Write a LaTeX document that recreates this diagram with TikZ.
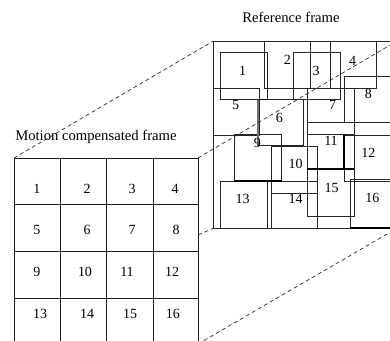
\documentclass[tikz,border=0pt]{standalone}
\usepackage{fontspec}
\setmainfont{Liberation Serif}
\begin{document}
\begin{tikzpicture}[x=0.75pt,y={(0,-0.75pt)}]
\tikzset{
  gridline/.style={draw=black!90, line width=0.65pt},
  blk/.style={draw=black!85, line width=0.65pt},
  thk/.style={draw=black, line width=1.3pt},
  graythk/.style={draw=black!55, line width=1.8pt},
  guide/.style={draw=black!80, line width=0.55pt, dash pattern=on 3pt off 2.2pt},
  num/.style={font=\fontsize{10.5}{12}\selectfont, inner sep=0pt},
  ttl/.style={font=\fontsize{11}{13}\selectfont, inner sep=0pt, anchor=base west},
}
\useasboundingbox (0,0) rectangle (390,341);
\clip (0,0) rectangle (390,341);
\fill[white] (0,0) rectangle (390,341);

% titles
\node[ttl] (tref) at (242,22.5) {Reference frame};
\node[ttl] (tmc) at (15,141) {Motion compensated frame};

% ---------- left grid (motion compensated frame)
\foreach \yy in {158,204,251,298}
  \draw[gridline] (14,\yy) -- (198,\yy);
\foreach \xx in {14,60,106,153,198}
  \draw[gridline] (\xx,158) -- (\xx,345);
\node[num] (m1)  at (37,189)  {1};
\node[num] (m2)  at (87,189)  {2};
\node[num] (m3)  at (132,189) {3};
\node[num] (m4)  at (175,189) {4};
\node[num] (m5)  at (37,230)  {5};
\node[num] (m6)  at (87,230)  {6};
\node[num] (m7)  at (132,230) {7};
\node[num] (m8)  at (176,230) {8};
\node[num] (m9)  at (37,272)  {9};
\node[num] (m10) at (85,272)  {10};
\node[num] (m11) at (127,272) {11};
\node[num] (m12) at (172,272) {12};
\node[num] (m13) at (40,314)  {13};
\node[num] (m14) at (87,314)  {14};
\node[num] (m15) at (130,314) {15};
\node[num] (m16) at (173,314) {16};

% ---------- reference frame
\draw[blk] (213.3,41) rectangle (397,228.3);
\draw[blk] (220.7,52.7) rectangle ++(46.6,47.0);  % 1
\draw[blk] (264.0,41.0) rectangle ++(46.7,47.3);  % 2
\draw[blk] (293.3,52.7) rectangle ++(46.7,47.0);  % 3
\draw[blk] (330.0,41.0) rectangle ++(46.7,47.3);  % 4
\draw[blk] (213.3,88.3) rectangle ++(46.0,46.7);  % 5
\draw[blk] (257.7,99.5) rectangle ++(45.6,45.5);  % 6
\draw[blk] (307.3,88.3) rectangle ++(46.7,46.0);  % 7
\draw[blk] (344.3,76.3) rectangle ++(46.7,46.0);  % 8
\draw[blk] (234.3,134.3) rectangle ++(47.4,47.0); % 9
\draw[blk] (271.0,146.0) rectangle ++(46.7,47.0); % 10
\draw[blk] (307.3,122.3) rectangle ++(46.7,47.0); % 11
\draw[blk] (344.3,135.0) rectangle ++(46.7,46.7); % 12
\draw[blk] (220.7,181.3) rectangle ++(46.6,47.0); % 13
\draw[blk] (271.0,181.3) rectangle ++(46.7,47.0); % 14
\draw[blk] (307.3,169.3) rectangle ++(47.0,47.0); % 15
\draw[blk] (350.0,179.7) rectangle ++(46.7,47.9); % 16
% emphasised (overlapping) edges
\draw[graythk] (257.7,100) -- (257.7,145);
\draw[thk] (257.7,99.6) -- (267.3,99.6);
\draw[thk] (234.3,181.3) -- (281.7,181.3);
\draw[thk] (307.3,169.3) -- (354.3,169.3);
\draw[thk] (344.3,135) -- (344.3,168.5);
\draw[thk] (350,228) -- (397,228);

% labels in reference frame
\node[num] (r1)  at (242.7,70.7)  {1};
\node[num] (r2)  at (287.3,60)    {2};
\node[num] (r3)  at (316,70.7)    {3};
\node[num] (r4)  at (352.7,60.7)  {4};
\begin{scope}
  \clip (213.3,100.3) rectangle (257,134);
  \node[num] (r5) at (235.7,105) {5};
\end{scope}
\node[num] (r6)  at (279.3,118.3) {6};
\begin{scope}
  \clip (308,100.1) rectangle (353,121);
  \node[num] (r7) at (332.7,105) {7};
\end{scope}
\node[num] (r8)  at (368.3,94)    {8};
\node[num] (r9)  at (257.3,142.7) {9};
\node[num] (r10) at (295.7,164.3) {10};
\node[num] (r11) at (331,141)     {11};
\node[num] (r12) at (368.3,152.7) {12};
\node[num] (r13) at (242.7,199.3) {13};
\node[num] (r14) at (295.7,199.3) {14};
\node[num] (r15) at (331.7,187.7) {15};
\node[num] (r16) at (372.3,198.3) {16};

% ---------- projection lines
\coordinate (mTL) at (14,158);
\coordinate (mTR) at (198,158);
\coordinate (mBLx) at (198,235);
\coordinate (mBR) at (198,344);
\coordinate (rTL) at (213.3,41);
\coordinate (rTR) at (397,41);
\coordinate (rBL) at (213.3,228.3);
\coordinate (rBR) at (397,228.3);
\draw[guide] (mTL) -- (rTL);
\draw[guide] (mTR) -- (rTR);
\draw[guide] (mBLx) -- (rBL);
\draw[guide] (mBR) -- (rBR);
\end{tikzpicture}
\end{document}
